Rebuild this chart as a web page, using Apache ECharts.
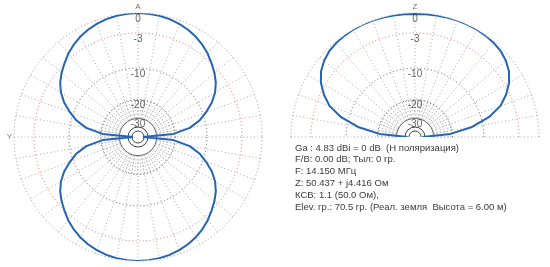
<!DOCTYPE html>
<html>
<head>
<meta charset="utf-8">
<style>
  html, body { margin: 0; padding: 0; background: #ffffff; }
  #chart { width: 550px; height: 267px; }
</style>
<script src="https://cdn.jsdelivr.net/npm/echarts@6/dist/echarts.min.js"></script>
</head>
<body>
<div id="chart"></div>
<script>
// ---------------- data ----------------
// Azimuth pattern (left plot): angle from top, clockwise, degrees
const azAngles = [0,5,10,15,20,25,30,35,40,45,50,55,60,65,70,75,80,85,90,
  95,100,105,110,115,120,125,130,135,140,145,150,155,160,165,170,175,180,
  185,190,195,200,205,210,215,220,225,230,235,240,245,250,255,260,265,270,
  275,280,285,290,295,300,305,310,315,320,325,330,335,340,345,350,355,360];
const azDb = [0,-0.03,-0.13,-0.3,-0.54,-0.85,-1.25,-1.74,-2.32,-3.0,-3.85,-4.8,-6.0,-7.5,-9.3,-11.7,-15.2,-21.0,-45,
  -21.0,-15.2,-11.7,-9.3,-7.5,-6.0,-4.8,-3.85,-3.0,-2.32,-1.74,-1.25,-0.85,-0.54,-0.3,-0.13,-0.03,0,
  -0.03,-0.13,-0.3,-0.54,-0.85,-1.25,-1.74,-2.32,-3.0,-3.85,-4.8,-6.0,-7.5,-9.3,-11.7,-15.2,-21.0,-45,
  -21.0,-15.2,-11.7,-9.3,-7.5,-6.0,-4.8,-3.85,-3.0,-2.32,-1.74,-1.25,-0.85,-0.54,-0.3,-0.13,-0.03,0];

// Elevation pattern (right plot): elevation angle from right horizon, degrees
const elAngles = [0,5,10,15,20,25,30,35,40,45,50,55,60,65,70,75,80,85,90,
  95,100,105,110,115,120,125,130,135,140,145,150,155,160,165,170,175,180];
const elDb = [-40,-21,-13.5,-8.5,-5.6,-3.7,-2.3,-1.4,-0.8,-0.4,-0.2,-0.08,-0.02,0,0,-0.03,-0.08,-0.12,-0.15,
  -0.12,-0.08,-0.03,0,0,-0.02,-0.08,-0.2,-0.4,-0.8,-1.4,-2.3,-3.7,-5.6,-8.5,-13.5,-21,-40];

// Ring (tick) values and labels
const ringDb = [0, -3, -10, -20, -30];
const ringLabels = ['0', '-3', '-10', '-20', '-30'];

// Log radial scale of the plot (dB -> fraction of outer radius)
const scaleDb   = [0, -3, -10, -20, -30, -40, -50];
const scaleFrac = [1, 0.839, 0.556, 0.302, 0.15, 0.06, 0.02];

const infoLines = [
  'Ga : 4.83 dBi = 0 dB  (H поляризация)',
  'F/B: 0.00 dB; Тыл: 0 гр.',
  'F: 14.150 МГц',
  'Z: 50.437 + j4.416 Ом',
  'КСВ: 1.1 (50.0 Ом),',
  'Elev. гр.: 70.5 гр. (Реал. земля  Высота = 6.00 м)'
];

// ---------------- helpers ----------------
function toFrac(db) {
  if (db >= scaleDb[0]) return 1;
  for (let i = 1; i < scaleDb.length; i++) {
    if (db >= scaleDb[i]) {
      const t = (db - scaleDb[i - 1]) / (scaleDb[i] - scaleDb[i - 1]);
      return scaleFrac[i - 1] + t * (scaleFrac[i] - scaleFrac[i - 1]);
    }
  }
  return scaleFrac[scaleFrac.length - 1];
}

const R = 124;
const polar = [], angleAxis = [], radiusAxis = [], series = [];

const off = { show: false };
function addPolar(center, radius, angleBase, axisLine, splitLine) {
  const idx = polar.length;
  polar.push({ center: center, radius: radius });
  angleAxis.push(Object.assign({}, angleBase, {
    polarIndex: idx,
    axisLine: axisLine ? { show: true, lineStyle: axisLine } : off,
    axisTick: off, axisLabel: off,
    splitLine: splitLine ? { show: true, lineStyle: splitLine.style } : off,
    interval: splitLine ? splitLine.interval : undefined,
    silent: true
  }));
  radiusAxis.push({ polarIndex: idx, type: 'value', min: 0, max: 1, show: false });
  return idx;
}

const dot = [1, 2.5];
function buildPlot(center, angleBase, dataAngles, dataDb, topAngle, names) {
  const r30 = R * toFrac(-30), r20 = R * toFrac(-20);
  // spokes
  addPolar(center, [r30, R], angleBase, null, { interval: 10, style: { color: '#ababab', type: dot, width: 1 } });
  addPolar(center, [r30, r20], angleBase, null, { interval: 5, style: { color: '#a0a0a0', type: dot, width: 1 } });
  // rings
  const ringStyles = [
    null,
    { color: '#e07070', type: dot, width: 1 },
    { color: '#606060', type: dot, width: 1 },
    { color: '#505050', type: dot, width: 1 },
    { color: '#707070', type: 'solid', width: 1 }
  ];
  for (let i = 1; i < ringDb.length; i++) {
    addPolar(center, R * toFrac(ringDb[i]), angleBase, ringStyles[i], null);
  }
  addPolar(center, 10, angleBase, { color: '#404040', type: 'solid', width: 1 }, null);
  addPolar(center, 6, angleBase, { color: '#404040', type: 'solid', width: 1 }, null);
  // main polar (outer 0 dB ring) carries the data
  const main = addPolar(center, [0, R], angleBase, { color: '#999999', type: dot, width: 1 }, null);

  series.push({
    type: 'line', coordinateSystem: 'polar', polarIndex: main,
    data: dataAngles.map((a, i) => [toFrac(dataDb[i]), a]),
    showSymbol: false, smooth: false, z: 10, silent: true,
    lineStyle: { color: '#2464b4', width: 2 }
  });
  series.push({
    type: 'scatter', coordinateSystem: 'polar', polarIndex: main,
    symbolSize: 0, z: 11, silent: true,
    data: ringDb.map((d, i) => ({ value: [toFrac(d), topAngle], name: ringLabels[i] })),
    label: { show: true, position: 'bottom', distance: 1, formatter: '{b}',
      color: '#3a3a3a', fontSize: 10, fontFamily: 'Liberation Sans, Arial, sans-serif' }
  });
  series.push({
    type: 'scatter', coordinateSystem: 'polar', polarIndex: main,
    symbolSize: 0, z: 11, silent: true,
    data: names.map(n => ({ value: [1, n.angle], name: n.text,
      label: { position: n.pos } })),
    label: { show: true, distance: 2, formatter: '{b}',
      color: '#505050', fontSize: 8, fontFamily: 'Liberation Sans, Arial, sans-serif' }
  });
}

buildPlot([138, 137],
  { type: 'value', min: 0, max: 360, startAngle: 90, clockwise: true },
  azAngles, azDb, 0,
  [{ text: 'A', angle: 0, pos: 'top' }, { text: 'Y', angle: 270, pos: 'left' }]);

buildPlot([415, 137],
  { type: 'value', min: 0, max: 180, startAngle: 0, endAngle: 180, clockwise: false },
  elAngles, elDb, 90,
  [{ text: 'Z', angle: 90, pos: 'top' }]);

const chart = echarts.init(document.getElementById('chart'), null, { renderer: 'canvas' });
chart.setOption({
  animation: false,
  backgroundColor: '#ffffff',
  title: {
    text: infoLines.join('\n'),
    left: 290, top: 137,
    textStyle: { fontSize: 9.5, fontWeight: 'normal', color: '#3a3a3a', lineHeight: 11.8,
      fontFamily: 'Liberation Sans, Arial, sans-serif' }
  },
  polar: polar,
  angleAxis: angleAxis,
  radiusAxis: radiusAxis,
  series: series
});
</script>
</body>
</html>
